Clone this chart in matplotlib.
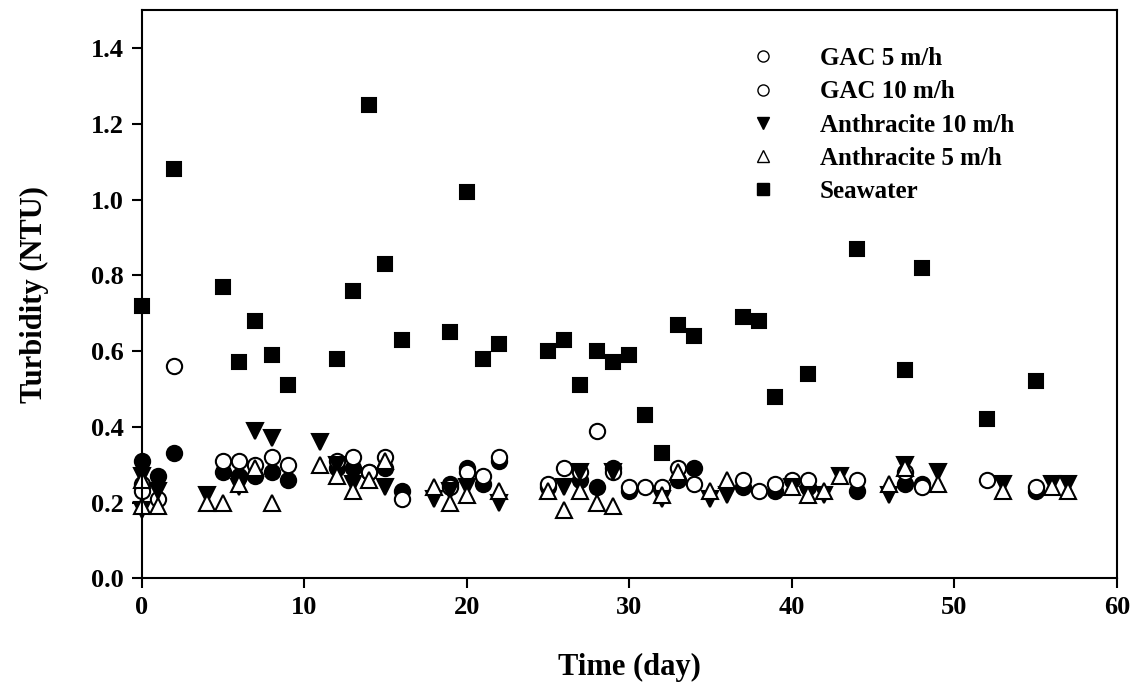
import numpy as np
import matplotlib.pyplot as plt
from matplotlib.lines import Line2D

plt.rcParams['font.family'] = ['Liberation Serif', 'DejaVu Serif']
plt.rcParams['font.weight'] = 'bold'

# GAC 10 m/h (filled circles)
gac10_day = [0, 1, 2, 5, 6, 7, 8, 9, 12, 13, 14, 15, 16, 19, 20, 21, 22, 25, 27, 28,
             29, 30, 33, 34, 37, 39, 41, 44, 47, 48, 55]
gac10_ntu = [0.31, 0.27, 0.33, 0.28, 0.27, 0.27, 0.28, 0.26, 0.29, 0.29, 0.28, 0.29, 0.23,
             0.25, 0.29, 0.25, 0.31, 0.24, 0.26, 0.24, 0.29, 0.23, 0.26, 0.29, 0.24, 0.23,
             0.24, 0.23, 0.25, 0.25, 0.23]

# GAC 5 m/h (open circles)
gac5_day = [0, 0, 1, 2, 5, 6, 7, 8, 9, 12, 13, 14, 15, 16, 19, 20, 21, 22, 25, 26, 27, 28,
            29, 30, 31, 32, 33, 34, 37, 38, 39, 40, 41, 44, 47, 48, 52, 55]
gac5_ntu = [0.25, 0.23, 0.21, 0.56, 0.31, 0.31, 0.30, 0.32, 0.30, 0.31, 0.32, 0.28, 0.32,
            0.21, 0.24, 0.28, 0.27, 0.32, 0.25, 0.29, 0.28, 0.39, 0.28, 0.24, 0.24, 0.24,
            0.29, 0.25, 0.26, 0.23, 0.25, 0.26, 0.26, 0.26, 0.28, 0.24, 0.26, 0.24]

# Anthracite 10 m/h (filled down triangles)
anth10_day = [0, 0, 1, 4, 6, 7, 8, 11, 12, 13, 15, 18, 19, 20, 22, 26, 27, 29, 32, 35, 36,
              40, 41, 42, 43, 46, 47, 49, 53, 56, 57]
anth10_ntu = [0.27, 0.18, 0.23, 0.22, 0.24, 0.39, 0.37, 0.36, 0.30, 0.25, 0.24, 0.21, 0.23,
              0.24, 0.20, 0.24, 0.28, 0.28, 0.21, 0.21, 0.22, 0.24, 0.22, 0.22, 0.27, 0.22,
              0.30, 0.28, 0.25, 0.25, 0.25]

# Anthracite 5 m/h (open up triangles)
anth5_day = [0, 0, 1, 4, 5, 6, 7, 8, 11, 12, 13, 14, 15, 18, 19, 20, 22, 25, 26, 27, 28, 29,
             32, 33, 35, 36, 40, 41, 42, 43, 46, 47, 49, 53, 56, 57]
anth5_ntu = [0.26, 0.19, 0.19, 0.20, 0.20, 0.25, 0.29, 0.20, 0.30, 0.27, 0.23, 0.26, 0.31,
             0.24, 0.20, 0.22, 0.23, 0.23, 0.18, 0.23, 0.20, 0.19, 0.22, 0.28, 0.23, 0.26,
             0.24, 0.22, 0.23, 0.27, 0.25, 0.29, 0.25, 0.23, 0.24, 0.23]

# Raw seawater (filled squares)
sea_day = [0, 2, 5, 6, 7, 8, 9, 12, 13, 14, 15, 16, 19, 20, 21, 22, 25, 26, 27, 28, 29, 30,
           31, 32, 33, 34, 37, 38, 39, 41, 44, 47, 48, 52, 55]
sea_ntu = [0.72, 1.08, 0.77, 0.57, 0.68, 0.59, 0.51, 0.58, 0.76, 1.25, 0.83, 0.63, 0.65,
           1.02, 0.58, 0.62, 0.60, 0.63, 0.51, 0.60, 0.57, 0.59, 0.43, 0.33, 0.67, 0.64,
           0.69, 0.68, 0.48, 0.54, 0.87, 0.55, 0.82, 0.42, 0.52]

fig = plt.figure(figsize=(11.37, 6.86), dpi=100)
ax = fig.add_axes([0.1246, 0.157, 0.8576, 0.828])

ms = 11
kw = dict(linestyle='none', markeredgewidth=1.5, clip_on=False)
ax.plot(sea_day, sea_ntu, 's', color='black', markersize=10.5, **kw)
ax.plot(gac10_day, gac10_ntu, 'o', color='black', markersize=ms, **kw)
ax.plot(gac5_day, gac5_ntu, 'o', markerfacecolor='white', markeredgecolor='black', markersize=ms, **kw)
ax.plot(anth10_day, anth10_ntu, 'v', color='black', markersize=ms, **kw)
ax.plot(anth5_day, anth5_ntu, '^', markerfacecolor='white', markeredgecolor='black', markersize=ms, **kw)

ax.set_xlim(0, 60)
ax.set_ylim(0, 1.5)
ax.set_xticks(np.arange(0, 61, 10))
ax.set_yticks(np.arange(0, 1.41, 0.2))
ax.set_yticklabels([f'{v:.1f}' for v in np.arange(0, 1.41, 0.2)])
ax.tick_params(direction='out', length=7, width=1.5, labelsize=19, pad=6)
for s in ax.spines.values():
    s.set_linewidth(1.5)

ax.set_xlabel('Time (day)', fontsize=22, fontweight='bold', labelpad=24)
ax.set_ylabel('Turbidity (NTU)', fontsize=22, fontweight='bold', labelpad=30)

# legend as drawn in the source: both GAC entries shown as open circles
handles = [
    Line2D([], [], marker='o', linestyle='none', markerfacecolor='white', markeredgecolor='black', markersize=8),
    Line2D([], [], marker='o', linestyle='none', markerfacecolor='white', markeredgecolor='black', markersize=8),
    Line2D([], [], marker='v', linestyle='none', color='black', markersize=8),
    Line2D([], [], marker='^', linestyle='none', markerfacecolor='white', markeredgecolor='black', markersize=8),
    Line2D([], [], marker='s', linestyle='none', color='black', markersize=8),
]
labels = ['GAC 5 m/h', 'GAC 10 m/h', 'Anthracite 10 m/h', 'Anthracite 5 m/h', 'Seawater']
ax.legend(handles, labels, loc='upper left', bbox_to_anchor=(0.6116, 0.935), frameon=False,
          prop={'size': 18, 'weight': 'bold'}, handlelength=2.0, handletextpad=1.28,
          labelspacing=0.41, borderaxespad=0, borderpad=0)

fig.savefig('out.png', dpi=100)
